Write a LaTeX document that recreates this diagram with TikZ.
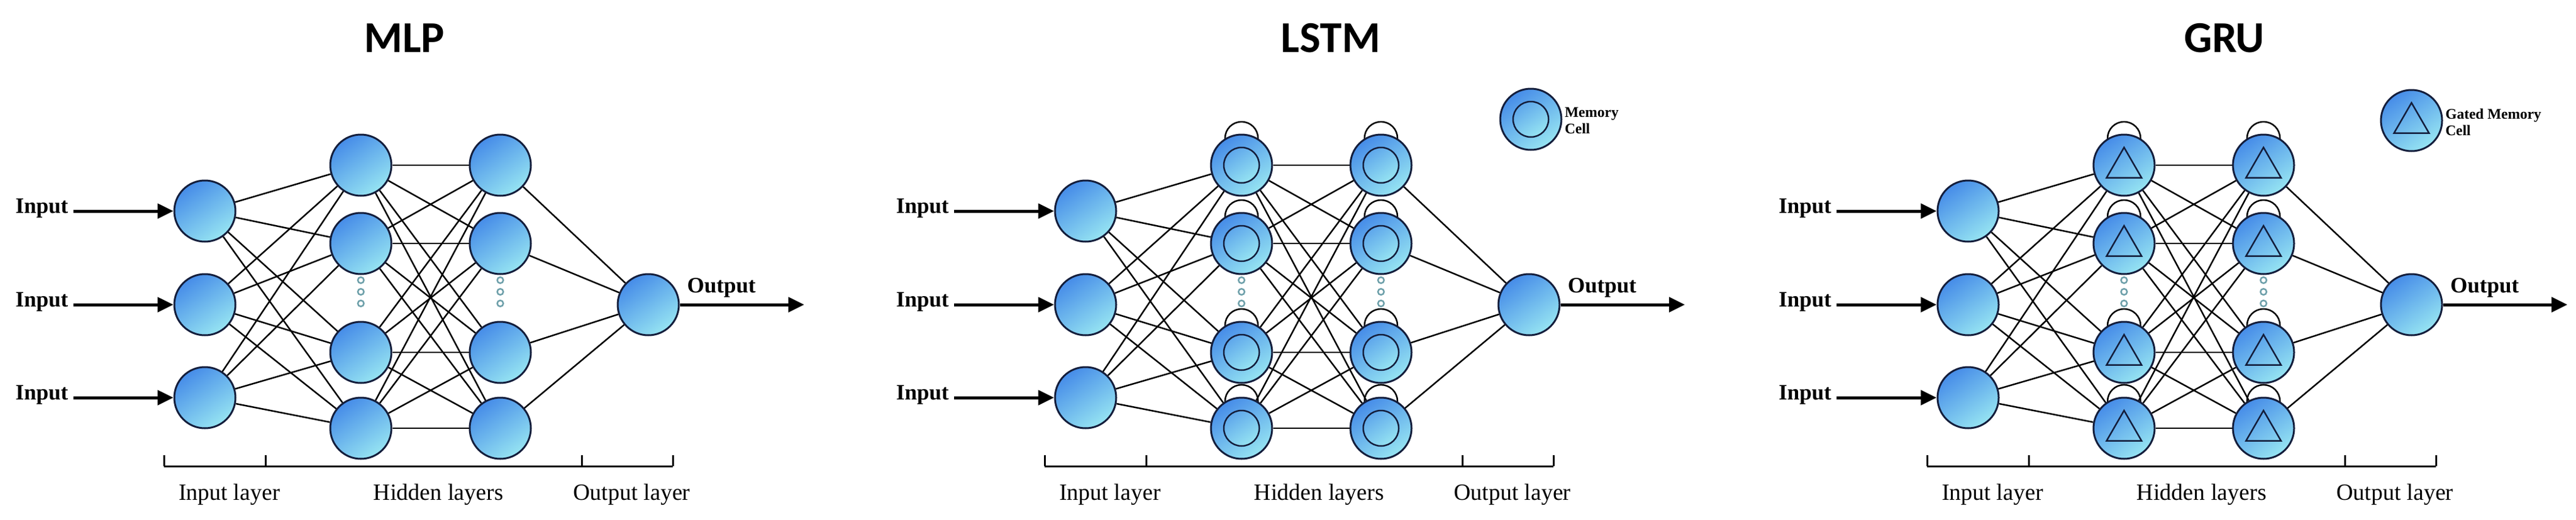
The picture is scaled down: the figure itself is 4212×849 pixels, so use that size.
\documentclass[tikz,border=0pt]{standalone}
\usepackage{fontspec}
\setmainfont{Liberation Serif}
\newfontfamily\titlefont{Carlito}
\usetikzlibrary{shapes.geometric,arrows.meta}
\definecolor{nodeA}{RGB}{70,140,232}
\definecolor{nodeB}{RGB}{150,228,242}
\definecolor{edgeN}{RGB}{20,30,60}
\definecolor{dotC}{RGB}{110,160,170}
\tikzset{
  neu/.style={circle,minimum size=100pt,inner sep=0pt,draw=edgeN,line width=3pt,
    top color=nodeA,bottom color=nodeB,shading angle=35},
  incirc/.style={circle,minimum size=58pt,inner sep=0pt,draw=edgeN,line width=2.5pt,
    top color=nodeA!70!nodeB,bottom color=nodeB,shading angle=35},
  intri/.style={regular polygon,regular polygon sides=3,minimum size=66pt,inner sep=0pt,
    draw=edgeN,line width=2.5pt},
  conn/.style={draw=black,line width=2.5pt},
  loop/.style={draw=black,line width=2.5pt},
  inarrow/.style={draw=black,line width=5pt,-{Triangle[length=26pt,width=24pt]}},
  lbl/.style={font=\fontsize{38}{40}\selectfont},
  iolbl/.style={font=\fontsize{36}{38}\selectfont\bfseries},
  ttl/.style={font=\fontsize{72}{76}\selectfont\titlefont\bfseries},
  leg/.style={font=\fontsize{24}{27}\selectfont\bfseries,align=left},
  dotn/.style={circle,minimum size=10pt,inner sep=0pt,draw=dotC,line width=2.5pt},
  brk/.style={draw=black,line width=3pt}
}
% #1 offset, #2 prefix, #3 type (0 mlp,1 lstm,2 gru)
\newcommand\mypanel[3]{%
\begin{scope}[xshift=#1pt]
  \ifnum#3>0
    \foreach \yy in {270,398,576,700}{
      \draw[loop] (590,\yy-44) circle (27);
      \draw[loop] (818,\yy-44) circle (27);
    }
  \fi
  \foreach \i/\yy in {1/345,2/498,3/650}{
    \node[neu] (#2i\i) at (335,\yy) {};
    \coordinate (#2s\i) at (120,\yy);
    \node[iolbl,anchor=east] (#2t\i) at (115,\yy-4) {Input};
    \draw[inarrow] (#2s\i) -- (#2i\i);
  }
  \foreach \i/\yy in {1/270,2/398,3/576,4/700}{
    \node[neu] (#2a\i) at (590,\yy) {};
    \node[neu] (#2b\i) at (818,\yy) {};
    \ifnum#3=1
      \node[incirc] (#2ac\i) at (590,\yy) {};
      \node[incirc] (#2bc\i) at (818,\yy) {};
    \fi
    \ifnum#3=2
      \node[intri] (#2ac\i) at (590,\yy+4) {};
      \node[intri] (#2bc\i) at (818,\yy+4) {};
    \fi
  }
  \foreach \k/\yy in {1/458,2/477,3/496}{
    \node[dotn] (#2da\k) at (590,\yy) {};
    \node[dotn] (#2db\k) at (818,\yy) {};
  }
  \node[neu] (#2o) at (1060,498) {};
  \coordinate (#2oe) at (1315,498);
  \draw[inarrow] (#2o) -- (#2oe);
  \node[iolbl,anchor=west] (#2ot) at (1120,470) {Output};
  \foreach \i in {1,2,3}{\foreach \j in {1,2,3,4}{\draw[conn] (#2i\i) -- (#2a\j);}}
  \foreach \i in {1,2,3,4}{\foreach \j in {1,2,3,4}{\draw[conn] (#2a\i) -- (#2b\j);}}
  \foreach \j in {1,2,3,4}{\draw[conn] (#2b\j) -- (#2o);}
  \coordinate (#2k1) at (268,762);
  \coordinate (#2k2) at (434,762);
  \coordinate (#2k3) at (951,762);
  \coordinate (#2k4) at (1100,762);
  \draw[brk] (#2k1) -- (#2k4);
  \foreach \k in {1,2,3,4}{\draw[brk] (#2k\k) -- ++(0,-18);}
  \node[lbl] (#2l1) at (375,808) {Input layer};
  \node[lbl] (#2l2) at (717,808) {Hidden layers};
  \node[lbl] (#2l3) at (1033,808) {Output layer};
\end{scope}}
\begin{document}
\begin{tikzpicture}[x=1pt,y=-1pt]
\useasboundingbox (0,0) rectangle (4212,849);
\fill[white] (0,0) rectangle (4212,849);
\node[ttl] (t1) at (661,62) {MLP};
\node[ttl] (t2) at (2176,62) {LSTM};
\node[ttl] (t3) at (3637,62) {GRU};
\mypanel{0}{m}{0}
\mypanel{1440}{l}{1}
\mypanel{2883}{g}{2}
% legends
\node[neu] (lleg) at (2503,195) {};
\node[incirc] (llegc) at (2503,195) {};
\node[leg,anchor=west] (llegt) at (2555,197) {Memory\\Cell};
\node[neu] (gleg) at (3943,197) {};
\node[intri] (glegc) at (3943,201) {};
\node[leg,anchor=west] (glegt) at (3995,200) {Gated Memory\\Cell};
\end{tikzpicture}
\end{document}
